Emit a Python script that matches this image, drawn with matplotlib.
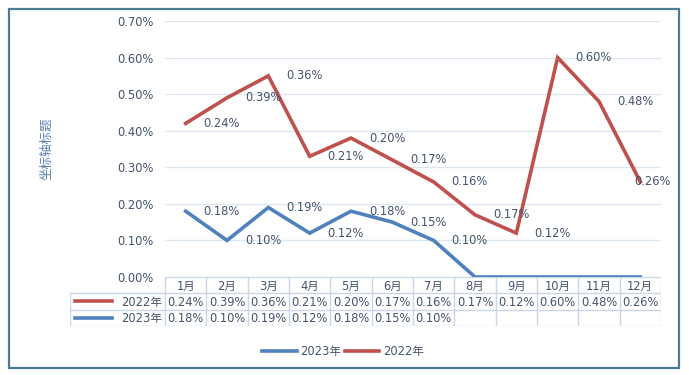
"""Stacked line chart with data table, 2022 vs 2023 monthly rates."""

import matplotlib.pyplot as plt
from matplotlib.patches import Rectangle
from matplotlib.lines import Line2D

plt.rcParams["font.family"] = ["DejaVu Sans", "Noto Sans CJK SC"]

months = ["1月", "2月", "3月", "4月", "5月", "6月", "7月", "8月", "9月", "10月", "11月", "12月"]
rate_2022 = [0.24, 0.39, 0.36, 0.21, 0.20, 0.17, 0.16, 0.17, 0.12, 0.60, 0.48, 0.26]
rate_2023 = [0.18, 0.10, 0.19, 0.12, 0.18, 0.15, 0.10, None, None, None, None, None]
yticks = [0.0, 0.1, 0.2, 0.3, 0.4, 0.5, 0.6, 0.7]

RED = "#C0504D"
BLUE = "#4F81BD"
TEXT = "#44546A"
GRID = "#DCE6F1"
TABLE = "#C9D7EA"
FS = 8.3

W, H = 689, 375


def fx(px):
    return px / W


def fy(py):
    return 1 - py / H


def main() -> None:
    fig = plt.figure(figsize=(W / 100, H / 100), dpi=100)
    fig.patches.append(Rectangle((fx(9), fy(368)), fx(670), (368 - 9) / H,
                                 transform=fig.transFigure, fill=False,
                                 edgecolor="#4E7C93", linewidth=1.6))

    left, right, top, bottom = 165, 661, 21, 277
    ax = fig.add_axes([fx(left), fy(bottom), fx(right - left), (bottom - top) / H])
    ax.set_xlim(0, 12)
    ax.set_ylim(0, 0.70)

    xs = [i + 0.5 for i in range(12)]
    base = [v if v is not None else 0.0 for v in rate_2023]
    stacked = [a + b for a, b in zip(rate_2022, base)]

    for y in yticks:
        ax.axhline(y, color=GRID, linewidth=1.0, zorder=0)
    ax.plot(xs, base, color=BLUE, linewidth=2.6, solid_joinstyle="miter", zorder=3)
    ax.plot(xs, stacked, color=RED, linewidth=2.6, solid_joinstyle="miter", zorder=3)

    # Excel nudges the last label back inside the chart
    offsets = [18] * 11 + [-6]
    for x, y, v, dx in zip(xs, base, rate_2023, offsets):
        if v is not None:
            ax.annotate(f"{v:.2f}%", (x, y), xytext=(dx, 0), textcoords="offset pixels",
                        ha="left", va="center", fontsize=FS, color=TEXT, zorder=4,
                        annotation_clip=False)
    for x, y, v, dx in zip(xs, stacked, rate_2022, offsets):
        ax.annotate(f"{v:.2f}%", (x, y), xytext=(dx, 0), textcoords="offset pixels",
                    ha="left", va="center", fontsize=FS, color=TEXT, zorder=4,
                    annotation_clip=False)

    ax.set_yticks(yticks)
    ax.set_yticklabels([f"{y:.2f}%" for y in yticks], fontsize=FS, color=TEXT)
    ax.tick_params(axis="y", length=0, pad=8)
    ax.set_xticks([])
    for spine in ax.spines.values():
        spine.set_visible(False)

    fig.text(fx(47), fy(149), "坐标轴标题", rotation=90, ha="center", va="center",
             fontsize=9, color="#5B7DB0", family=["Noto Sans CJK SC"])

    # data table
    t_left, t_top, row_h = 70, 277, 16.3
    col_w = (right - left) / 12
    tab = fig.add_axes([fx(t_left), fy(t_top + 3 * row_h), fx(right - t_left), 3 * row_h / H])
    label_w = (left - t_left) / col_w
    tab.set_xlim(-label_w, 12)
    tab.set_ylim(3, 0)
    tab.axis("off")
    lw = 1.0
    tab.plot([0, 12], [0, 0], color=TABLE, linewidth=lw)
    tab.plot([-label_w, 12], [1, 1], color=TABLE, linewidth=lw)
    tab.plot([-label_w, 12], [2, 2], color=TABLE, linewidth=lw)
    tab.plot([-label_w, 12], [3, 3], color=TABLE, linewidth=lw)
    tab.plot([-label_w, -label_w], [1, 3], color=TABLE, linewidth=lw)
    for i in range(13):
        tab.plot([i, i], [0, 3], color=TABLE, linewidth=lw)
    for i, m in enumerate(months):
        tab.text(i + 0.5, 0.55, m, ha="center", va="center", fontsize=FS, color=TEXT)
        tab.text(i + 0.5, 1.55, f"{rate_2022[i]:.2f}%", ha="center", va="center",
                 fontsize=FS, color=TEXT)
        if rate_2023[i] is not None:
            tab.text(i + 0.5, 2.55, f"{rate_2023[i]:.2f}%", ha="center", va="center",
                     fontsize=FS, color=TEXT)
    key_x0 = -label_w + 5 / col_w
    key_x1 = -label_w + 42 / col_w
    for row, (name, color) in enumerate([("2022年", RED), ("2023年", BLUE)], start=1):
        tab.plot([key_x0, key_x1], [row + 0.5, row + 0.5], color=color, linewidth=2.6)
        tab.text(-0.07, row + 0.55, name, ha="right", va="center", fontsize=FS, color=TEXT)

    handles = [Line2D([], [], color=BLUE, linewidth=2.6), Line2D([], [], color=RED, linewidth=2.6)]
    fig.legend(handles, ["2023年", "2022年"], loc="center", bbox_to_anchor=(fx(343), fy(352)),
               ncol=2, frameon=False, fontsize=FS, handlelength=3.0, handletextpad=0.3,
               columnspacing=0.3, labelcolor=TEXT)

    fig.savefig("out.png", dpi=100)
    plt.close(fig)


if __name__ == "__main__":
    main()
